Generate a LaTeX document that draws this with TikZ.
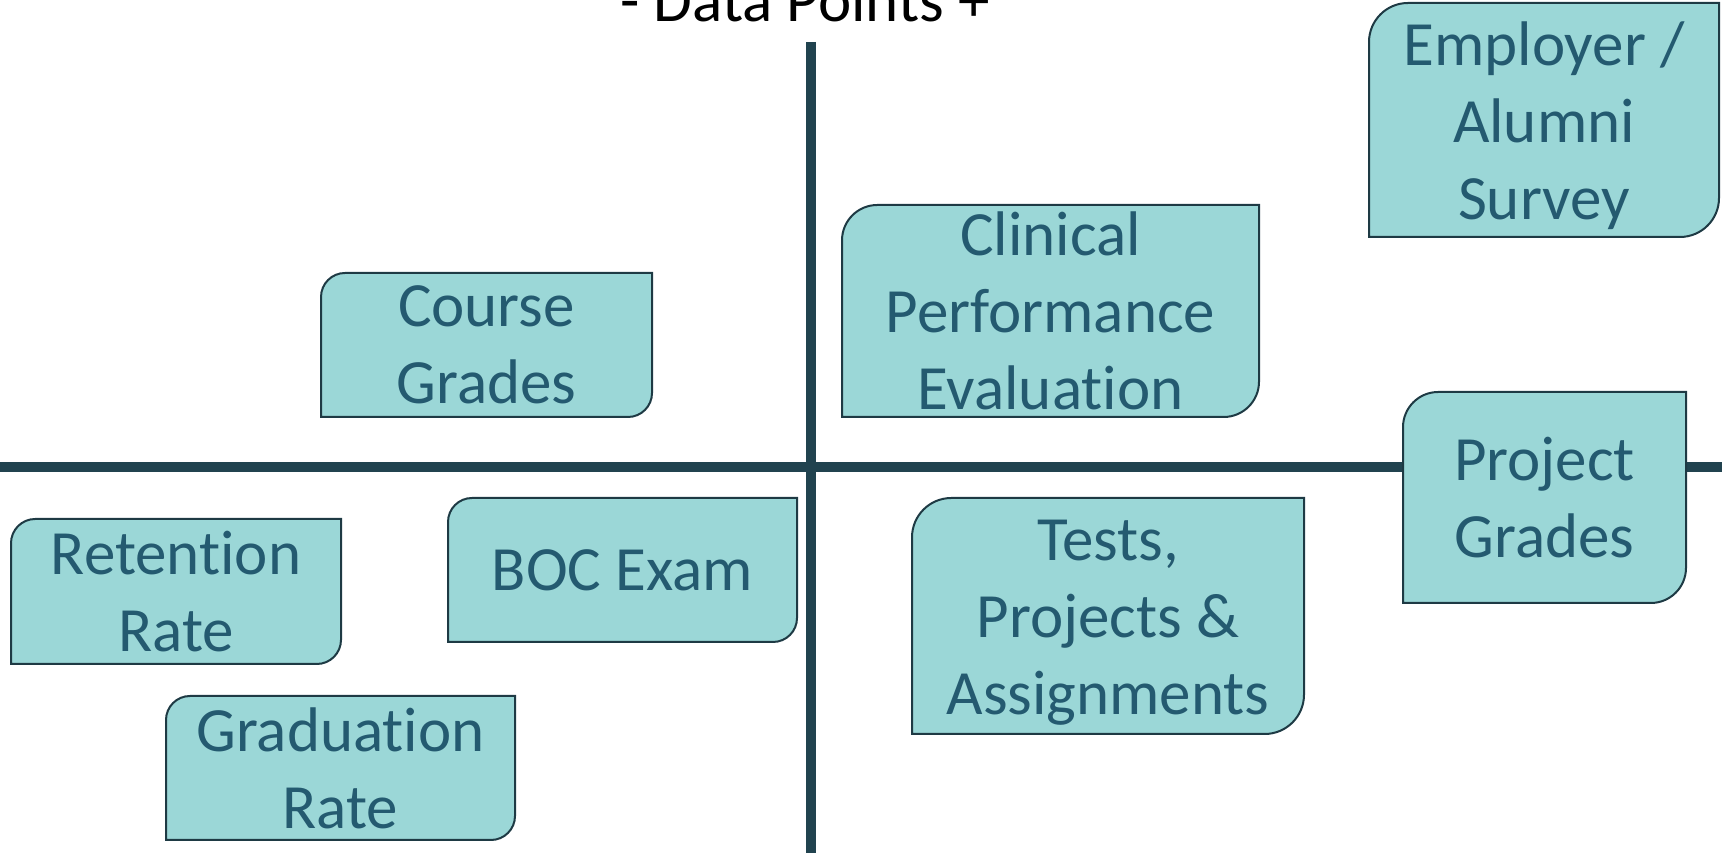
\documentclass[tikz,border=0pt]{standalone}
\usepackage{fontspec}
\setmainfont{Carlito}[Ligatures=NoCommon]
\usepackage{tikz}
\definecolor{axisblue}{HTML}{21434F}
\definecolor{boxfill}{HTML}{9BD7D7}
\definecolor{boxline}{HTML}{1E3A44}
\definecolor{labelblue}{HTML}{245A70}
\tikzstyle{axis}=[line width=10, axisblue]
\tikzstyle{databox}=[fill=boxfill, draw=boxline, line width=2]
\tikzstyle{datatext}=[align=center, text=labelblue, inner sep=0, font=\fontsize{63}{77}\selectfont]
\tikzset{every picture/.style={
    x=1pt, y=1pt
  }
}
% box with the top left and bottom right corners rounded
% #1 node options, #2 name, #3 left, #4 bottom, #5 right, #6 top, #7 text
\newcommand{\datapoint}[7][]{
  \pgfmathsetmacro{\rad}{0.1667*min(#5-#3,#6-#4)}
  \draw[databox] (#3,#4) -- (#3,#6-\rad) arc[start angle=180, end angle=90, radius=\rad]
    -- (#5,#6) -- (#5,#4+\rad) arc[start angle=0, end angle=-90, radius=\rad] -- cycle;
  \node[datatext, #1] (#2) at ({(#3+#5)/2},{(#4+#6)/2}) {#7};
}

\begin{document}
\begin{tikzpicture}
        \useasboundingbox (0,0) rectangle (1729,853);
        \node[anchor=base, font=\fontsize{63}{77}\selectfont] (title) at (805,831) {- Data Points +};
        \coordinate (west) at (0,386);
        \coordinate (east) at (1722,386);
        \coordinate (north) at (811,811);
        \coordinate (south) at (811,0);
        \draw[axis] (west) -- (east);
        \draw[axis] (north) -- (south);
        \datapoint[yshift=-6]{employer}{1369}{616}{1719}{850}{Employer /\\Alumni\\Survey}
        \datapoint{clinical}{842}{436}{1259}{648}{Clinical\\Performance\\Evaluation}
        \datapoint{course}{321}{436}{652}{580}{Course\\Grades}
        \datapoint{project}{1403}{250}{1686}{461}{Project\\Grades}
        \datapoint{retention}{11}{189}{341}{334}{Retention\\Rate}
        \datapoint{boc}{448}{211}{797}{355}{BOC Exam}
        \datapoint[yshift=-7]{tests}{912}{119}{1304}{355}{Tests,\\Projects \&\\Assignments}
        \datapoint{graduation}{166}{13}{515}{157}{Graduation\\Rate}
      \end{tikzpicture}
\end{document}
